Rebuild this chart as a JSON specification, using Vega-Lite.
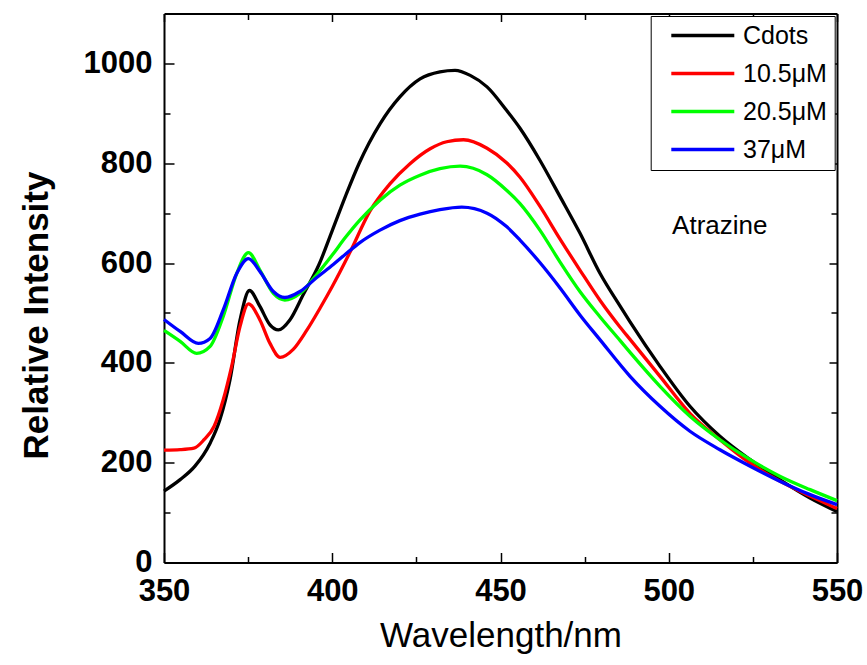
{
  "$schema": "https://vega.github.io/schema/vega-lite/v6.json",
  "width": 673,
  "height": 549,
  "autosize": {"type": "none"},
  "padding": {"left": 164, "top": 13.5, "right": 30, "bottom": 102.5},
  "background": "white",
  "config": {
    "font": "Liberation Sans",
    "view": {"stroke": null},
    "axis": {
      "grid": false,
      "domainColor": "black",
      "domainWidth": 2,
      "tickColor": "black",
      "tickWidth": 1.5,
      "labelFont": "Liberation Sans",
      "labelFontWeight": "bold",
      "labelFontSize": 31,
      "labelColor": "black",
      "labelFlush": false,
      "labelOverlap": false,
      "labelBound": false,
      "titleFont": "Liberation Sans",
      "titleColor": "black"
    }
  },
  "datasets": {
    "spectra": [
      {"wl": 350, "v": 143, "s": "Cdots"},
      {"wl": 354.8, "v": 166, "s": "Cdots"},
      {"wl": 359.2, "v": 193, "s": "Cdots"},
      {"wl": 363.7, "v": 239, "s": "Cdots"},
      {"wl": 366.6, "v": 286, "s": "Cdots"},
      {"wl": 369.6, "v": 366, "s": "Cdots"},
      {"wl": 372.6, "v": 486, "s": "Cdots"},
      {"wl": 375.4, "v": 545, "s": "Cdots"},
      {"wl": 378.5, "v": 513, "s": "Cdots"},
      {"wl": 381.5, "v": 476, "s": "Cdots"},
      {"wl": 384, "v": 466, "s": "Cdots"},
      {"wl": 387.4, "v": 486, "s": "Cdots"},
      {"wl": 391.4, "v": 537, "s": "Cdots"},
      {"wl": 396, "v": 596, "s": "Cdots"},
      {"wl": 400, "v": 665, "s": "Cdots"},
      {"wl": 404, "v": 735, "s": "Cdots"},
      {"wl": 408, "v": 800, "s": "Cdots"},
      {"wl": 414.2, "v": 879, "s": "Cdots"},
      {"wl": 420.1, "v": 933, "s": "Cdots"},
      {"wl": 426.1, "v": 969, "s": "Cdots"},
      {"wl": 432, "v": 983, "s": "Cdots"},
      {"wl": 436.5, "v": 986, "s": "Cdots"},
      {"wl": 441, "v": 976, "s": "Cdots"},
      {"wl": 446, "v": 953, "s": "Cdots"},
      {"wl": 451.8, "v": 906, "s": "Cdots"},
      {"wl": 455.8, "v": 870, "s": "Cdots"},
      {"wl": 461.7, "v": 806, "s": "Cdots"},
      {"wl": 467.7, "v": 733, "s": "Cdots"},
      {"wl": 473.6, "v": 660, "s": "Cdots"},
      {"wl": 479.6, "v": 579, "s": "Cdots"},
      {"wl": 485.5, "v": 514, "s": "Cdots"},
      {"wl": 488.5, "v": 482, "s": "Cdots"},
      {"wl": 497.4, "v": 393, "s": "Cdots"},
      {"wl": 506.3, "v": 313, "s": "Cdots"},
      {"wl": 515.2, "v": 253, "s": "Cdots"},
      {"wl": 524.2, "v": 206, "s": "Cdots"},
      {"wl": 533, "v": 166, "s": "Cdots"},
      {"wl": 542, "v": 129, "s": "Cdots"},
      {"wl": 550, "v": 102, "s": "Cdots"},

      {"wl": 350, "v": 225, "s": "10.5μM"},
      {"wl": 354.8, "v": 226, "s": "10.5μM"},
      {"wl": 358.9, "v": 229, "s": "10.5μM"},
      {"wl": 361.9, "v": 246, "s": "10.5μM"},
      {"wl": 364.9, "v": 273, "s": "10.5μM"},
      {"wl": 367.6, "v": 326, "s": "10.5μM"},
      {"wl": 370.1, "v": 393, "s": "10.5μM"},
      {"wl": 372.6, "v": 473, "s": "10.5μM"},
      {"wl": 375.1, "v": 518, "s": "10.5μM"},
      {"wl": 378.5, "v": 486, "s": "10.5μM"},
      {"wl": 381.5, "v": 439, "s": "10.5μM"},
      {"wl": 384.5, "v": 411, "s": "10.5μM"},
      {"wl": 388.4, "v": 427, "s": "10.5μM"},
      {"wl": 392.4, "v": 465, "s": "10.5μM"},
      {"wl": 396.4, "v": 510, "s": "10.5μM"},
      {"wl": 400, "v": 553, "s": "10.5μM"},
      {"wl": 405.3, "v": 622, "s": "10.5μM"},
      {"wl": 411.2, "v": 704, "s": "10.5μM"},
      {"wl": 417.2, "v": 759, "s": "10.5μM"},
      {"wl": 423.1, "v": 799, "s": "10.5μM"},
      {"wl": 429.1, "v": 829, "s": "10.5μM"},
      {"wl": 434, "v": 843, "s": "10.5μM"},
      {"wl": 439, "v": 847, "s": "10.5μM"},
      {"wl": 446, "v": 830, "s": "10.5μM"},
      {"wl": 451.8, "v": 801, "s": "10.5μM"},
      {"wl": 455.8, "v": 772, "s": "10.5μM"},
      {"wl": 461.7, "v": 714, "s": "10.5μM"},
      {"wl": 467.7, "v": 648, "s": "10.5μM"},
      {"wl": 473.6, "v": 586, "s": "10.5μM"},
      {"wl": 479.6, "v": 525, "s": "10.5μM"},
      {"wl": 485.5, "v": 472, "s": "10.5μM"},
      {"wl": 488.5, "v": 447, "s": "10.5μM"},
      {"wl": 497.4, "v": 373, "s": "10.5μM"},
      {"wl": 506.3, "v": 299, "s": "10.5μM"},
      {"wl": 515.2, "v": 246, "s": "10.5μM"},
      {"wl": 524.2, "v": 199, "s": "10.5μM"},
      {"wl": 533, "v": 163, "s": "10.5μM"},
      {"wl": 542, "v": 133, "s": "10.5μM"},
      {"wl": 550, "v": 108, "s": "10.5μM"},

      {"wl": 350, "v": 465, "s": "20.5μM"},
      {"wl": 354.8, "v": 443, "s": "20.5μM"},
      {"wl": 359.7, "v": 419, "s": "20.5μM"},
      {"wl": 363.7, "v": 433, "s": "20.5μM"},
      {"wl": 367.6, "v": 493, "s": "20.5μM"},
      {"wl": 371.6, "v": 579, "s": "20.5μM"},
      {"wl": 375.1, "v": 621, "s": "20.5μM"},
      {"wl": 378.5, "v": 586, "s": "20.5μM"},
      {"wl": 382.5, "v": 539, "s": "20.5μM"},
      {"wl": 385.9, "v": 526, "s": "20.5μM"},
      {"wl": 390.4, "v": 539, "s": "20.5μM"},
      {"wl": 395.4, "v": 577, "s": "20.5μM"},
      {"wl": 400, "v": 616, "s": "20.5μM"},
      {"wl": 404, "v": 652, "s": "20.5μM"},
      {"wl": 408.2, "v": 686, "s": "20.5μM"},
      {"wl": 414.2, "v": 726, "s": "20.5μM"},
      {"wl": 420.1, "v": 756, "s": "20.5μM"},
      {"wl": 426.1, "v": 776, "s": "20.5μM"},
      {"wl": 432, "v": 789, "s": "20.5μM"},
      {"wl": 438, "v": 794, "s": "20.5μM"},
      {"wl": 446, "v": 777, "s": "20.5μM"},
      {"wl": 451.8, "v": 746, "s": "20.5μM"},
      {"wl": 455.8, "v": 719, "s": "20.5μM"},
      {"wl": 461.7, "v": 666, "s": "20.5μM"},
      {"wl": 467.7, "v": 602, "s": "20.5μM"},
      {"wl": 473.6, "v": 543, "s": "20.5μM"},
      {"wl": 479.6, "v": 492, "s": "20.5μM"},
      {"wl": 485.5, "v": 445, "s": "20.5μM"},
      {"wl": 488.5, "v": 421, "s": "20.5μM"},
      {"wl": 497.4, "v": 353, "s": "20.5μM"},
      {"wl": 506.3, "v": 293, "s": "20.5μM"},
      {"wl": 515.2, "v": 246, "s": "20.5μM"},
      {"wl": 524.2, "v": 206, "s": "20.5μM"},
      {"wl": 533, "v": 173, "s": "20.5μM"},
      {"wl": 542, "v": 146, "s": "20.5μM"},
      {"wl": 550, "v": 124, "s": "20.5μM"},

      {"wl": 350, "v": 487, "s": "37μM"},
      {"wl": 354.8, "v": 463, "s": "37μM"},
      {"wl": 360.2, "v": 439, "s": "37μM"},
      {"wl": 363.7, "v": 449, "s": "37μM"},
      {"wl": 367.6, "v": 506, "s": "37μM"},
      {"wl": 371.6, "v": 579, "s": "37μM"},
      {"wl": 375.1, "v": 609, "s": "37μM"},
      {"wl": 378.5, "v": 583, "s": "37μM"},
      {"wl": 382.5, "v": 543, "s": "37μM"},
      {"wl": 385.9, "v": 531, "s": "37μM"},
      {"wl": 390.4, "v": 543, "s": "37μM"},
      {"wl": 395.4, "v": 571, "s": "37μM"},
      {"wl": 400.3, "v": 597, "s": "37μM"},
      {"wl": 404, "v": 618, "s": "37μM"},
      {"wl": 408.2, "v": 641, "s": "37μM"},
      {"wl": 414.2, "v": 666, "s": "37μM"},
      {"wl": 420.1, "v": 685, "s": "37μM"},
      {"wl": 426.1, "v": 698, "s": "37μM"},
      {"wl": 432, "v": 707, "s": "37μM"},
      {"wl": 438.5, "v": 712, "s": "37μM"},
      {"wl": 446, "v": 700, "s": "37μM"},
      {"wl": 451.8, "v": 673, "s": "37μM"},
      {"wl": 455.8, "v": 646, "s": "37μM"},
      {"wl": 461.7, "v": 601, "s": "37μM"},
      {"wl": 467.7, "v": 550, "s": "37μM"},
      {"wl": 473.6, "v": 496, "s": "37μM"},
      {"wl": 479.6, "v": 446, "s": "37μM"},
      {"wl": 488.5, "v": 373, "s": "37μM"},
      {"wl": 497.4, "v": 313, "s": "37μM"},
      {"wl": 506.3, "v": 263, "s": "37μM"},
      {"wl": 515.2, "v": 226, "s": "37μM"},
      {"wl": 524.2, "v": 193, "s": "37μM"},
      {"wl": 533, "v": 163, "s": "37μM"},
      {"wl": 542, "v": 136, "s": "37μM"},
      {"wl": 550, "v": 116, "s": "37μM"}
    ],
    "note": [{"wl": 501, "v": 659, "label": "Atrazine"}]
  },
  "layer": [
    {
      "data": {"name": "spectra"},
      "mark": {"type": "line", "strokeWidth": 3.3, "interpolate": "monotone"},
      "encoding": {
        "x": {
          "field": "wl", "type": "quantitative",
          "scale": {"domain": [350, 550], "nice": false, "zero": false},
          "axis": {
            "orient": "bottom",
            "values": [350, 400, 450, 500, 550],
            "format": "d",
            "tickSize": -10,
            "labelPadding": 24,
            "title": "Wavelength/nm",
            "titleFontSize": 35,
            "titleFontWeight": "normal",
            "titlePadding": 12
          }
        },
        "y": {
          "field": "v", "type": "quantitative",
          "scale": {"domain": [0, 1100], "nice": false},
          "axis": {
            "orient": "left",
            "values": [0, 200, 400, 600, 800, 1000],
            "format": "d",
            "tickSize": -10,
            "labelPadding": 22,
            "title": "Relative Intensity",
            "titleFontSize": 35,
            "titleFontWeight": "bold",
            "titlePadding": 29,
            "titleY": 301.5
          }
        },
        "color": {
          "field": "s", "type": "nominal",
          "scale": {
            "domain": ["Cdots", "10.5μM", "20.5μM", "37μM"],
            "range": ["#000000", "#ff0000", "#00ff00", "#0000ff"]
          },
          "legend": {
            "title": null,
            "orient": "none",
            "legendX": 486.7,
            "legendY": 2.5,
            "labelFont": "Liberation Sans",
            "labelFontSize": 25,
            "labelColor": "black",
            "symbolType": "M-1,0H5",
            "symbolSize": 441,
            "symbolStrokeWidth": 3.5,
            "strokeColor": "black",
            "fillColor": "white",
            "padding": 7,
            "rowPadding": 12,
            "symbolOffset": 11.6,
            "labelOffset": 48.7
          }
        }
      }
    },
    {
      "data": {"name": "spectra"},
      "mark": {"type": "point", "opacity": 0},
      "encoding": {
        "x": {
          "field": "wl", "type": "quantitative",
          "axis": {"orient": "bottom", "values": [375, 425, 475, 525], "tickSize": -6, "labels": false, "domain": false, "title": null}
        },
        "y": {
          "field": "v", "type": "quantitative",
          "axis": {"orient": "left", "values": [100, 300, 500, 700, 900], "tickSize": -6, "labels": false, "domain": false, "title": null}
        }
      }
    },
    {
      "data": {"name": "spectra"},
      "mark": {"type": "point", "opacity": 0},
      "encoding": {
        "x": {
          "field": "wl", "type": "quantitative",
          "axis": {"orient": "top", "values": [350, 400, 450, 500, 550], "tickSize": -8, "labels": false, "domain": true, "title": null}
        },
        "y": {
          "field": "v", "type": "quantitative",
          "axis": {"orient": "right", "values": [0, 200, 400, 600, 800, 1000], "tickSize": -8, "labels": false, "domain": true, "title": null}
        }
      }
    },
    {
      "data": {"name": "spectra"},
      "mark": {"type": "point", "opacity": 0},
      "encoding": {
        "x": {
          "field": "wl", "type": "quantitative",
          "axis": {"orient": "top", "values": [375, 425, 475, 525], "tickSize": -6, "labels": false, "domain": false, "title": null}
        },
        "y": {
          "field": "v", "type": "quantitative",
          "axis": {"orient": "right", "values": [100, 300, 500, 700, 900], "tickSize": -6, "labels": false, "domain": false, "title": null}
        }
      }
    },
    {
      "data": {"name": "note"},
      "mark": {"type": "text", "font": "Liberation Sans", "fontSize": 26, "align": "left", "baseline": "alphabetic", "color": "black"},
      "encoding": {
        "x": {"field": "wl", "type": "quantitative", "axis": null},
        "y": {"field": "v", "type": "quantitative", "axis": null},
        "text": {"field": "label"}
      }
    }
  ],
  "resolve": {"axis": {"x": "independent", "y": "independent"}}
}
